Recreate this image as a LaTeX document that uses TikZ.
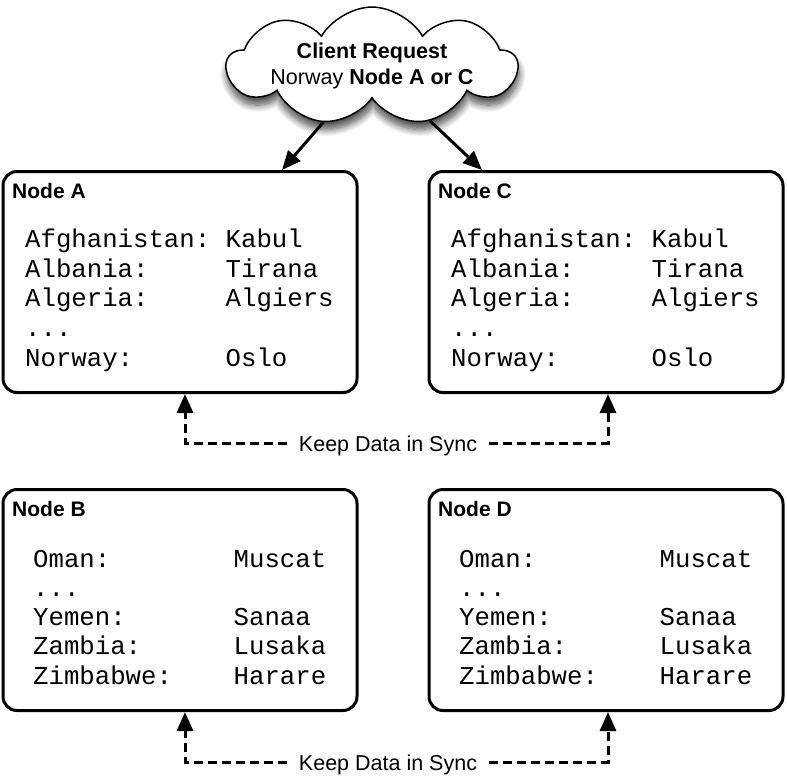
\documentclass[tikz,border=0pt]{standalone}
\usepackage{fontspec}
\setmainfont{Liberation Sans}
\newfontfamily\monof{Liberation Mono}
\usetikzlibrary{arrows.meta,shapes.symbols,shadows.blur}
\newcommand\ddd{...}
\begin{document}
\begin{tikzpicture}[x=1pt,y=-1pt,
  box/.style={draw,line width=3pt,rounded corners=14pt,minimum width=354pt,minimum height=221pt,inner sep=0pt},
  ttl/.style={font=\bfseries\fontsize{21}{24}\selectfont,inner sep=0pt,anchor=base west},
  mono/.style={font=\monof\fontsize{25.7}{29.7}\selectfont,inner sep=0pt,anchor=base west},
  lbl/.style={font=\fontsize{21.5}{26}\selectfont,inner xsep=12pt,inner ysep=0pt,anchor=base},
  arr/.style={line width=3pt,-{Triangle[length=19pt,width=16pt]}},
  sync/.style={line width=3pt,dash pattern=on 9pt off 5pt,-{Triangle[length=19pt,width=16pt]}}
]
\useasboundingbox (0,0) rectangle (787,784);
% cloud
\node[cloud,draw,line width=1.5pt,fill=white,cloud puffs=9,cloud puff arc=120,
  cloud ignores aspect,
  minimum width=290pt,minimum height=98pt,inner sep=0pt,align=center,
  font=\fontsize{21.5}{26}\selectfont,
  blur shadow={shadow blur steps=10,shadow xshift=1pt,shadow yshift=-8pt,shadow blur radius=7pt,shadow opacity=70}]
  (cl) at (372,66) {\textbf{Client Request}\\Norway \textbf{Node A or C}};
% boxes
\node[box] (A) at (180,282) {};
\node[box] (C) at (606,282) {};
\node[box] (B) at (180,600) {};
\node[box] (D) at (606,600) {};
\node[ttl] (tA) at (12,198.3) {Node A};
\node[ttl] (tC) at (438,198.3) {Node C};
\node[ttl] (tB) at (12,516.5) {Node B};
\node[ttl] (tD) at (438,516.5) {Node D};
\foreach \dx/\nm in {0/A,426/C}{
  \foreach \a/\b [count=\i] in {Afghanistan:/Kabul,Albania:/Tirana,Algeria:/Algiers,\ddd/{},Norway:/Oslo}
    \node[mono] (\nm-\i) at (25+\dx,247.3+29.7*\i-29.7) {\makebox[200.5pt][l]{\a}\b};
}
\foreach \dx/\nm in {0/B,426/D}{
  \foreach \a/\b [count=\i] in {Oman:/Muscat,\ddd/{},Yemen:/Sanaa,Zambia:/Lusaka,Zimbabwe:/Harare}
    \node[mono] (\nm-\i) at (33+\dx,567.3+29.2*\i-29.2) {\makebox[200.5pt][l]{\a}\b};
}
% request arrows
\coordinate (rA) at (282,170);
\coordinate (rC) at (482,170);
\draw[arr] (cl) -- (rA);
\draw[arr] (cl) -- (rC);
% sync
\node[lbl] (k1) at (388,451) {Keep Data in Sync};
\node[lbl] (k2) at (388,770) {Keep Data in Sync};
\coordinate (s1) at (185,443);
\coordinate (s2) at (608,443);
\coordinate (s3) at (185,762);
\coordinate (s4) at (608,762);
\draw[sync] (k1.west |- s1) -- (s1) -- (s1 |- A.south);
\draw[sync] (k1.east |- s2) -- (s2) -- (s2 |- C.south);
\draw[sync] (k2.west |- s3) -- (s3) -- (s3 |- B.south);
\draw[sync] (k2.east |- s4) -- (s4) -- (s4 |- D.south);
\end{tikzpicture}
\end{document}
